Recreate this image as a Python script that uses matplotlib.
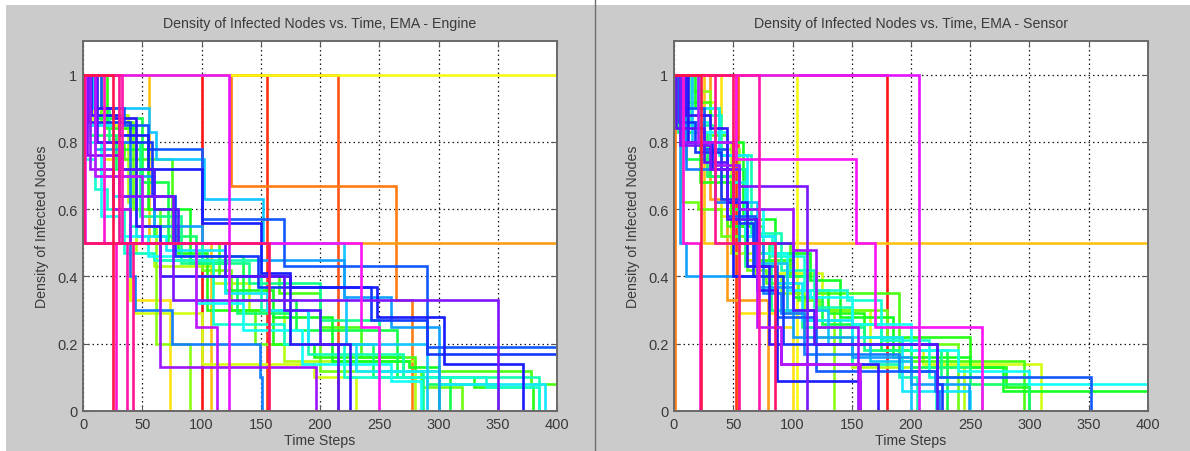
import matplotlib
matplotlib.use("Agg")
import matplotlib.pyplot as plt
from matplotlib.patches import Rectangle
from matplotlib.lines import Line2D
import numpy as np

T_END = 400
x_ticks = [0, 50, 100, 150, 200, 250, 300, 350, 400]
y_ticks = [0, 0.2, 0.4, 0.6, 0.8, 1]
y_tick_labels = ["0", "0.2", "0.4", "0.6", "0.8", "1"]

titles = ["Density of Infected Nodes vs. Time, EMA - Engine",
          "Density of Infected Nodes vs. Time, EMA - Sensor"]
x_label = "Time Steps"
y_label = "Density of Infected Nodes"

# Each run: times at which the density changes, and the density from that time on
engine_times = [
    [0, 100], [0, 155], [0, 215], [0, 125, 264, 278], [0, 1], [0, 56, 108],
    [0, 18, 40, 73], [0],
    [0, 8, 30, 40, 44, 100, 195, 230],
    [0, 12, 38, 45, 60, 110, 140, 170, 280],
    [0, 5, 30, 50, 62, 90],
    [0, 15, 42, 65, 100, 125, 145, 200, 285, 320],
    [0, 10, 35, 75, 115, 165, 200, 235, 280, 378],
    [0, 20, 45, 80, 105, 160, 195, 270, 330, 380],
    [0, 8, 25, 55, 90, 120, 160, 210, 275, 300],
    [0, 12, 50, 72, 100, 135, 180, 265, 310],
    [0, 6, 28, 60, 95, 130, 175, 245, 290, 350],
    [0, 4, 22, 48, 83, 140, 200, 250, 287],
    [0, 3, 18, 40, 65, 100, 150, 190, 270, 385],
    [0, 2, 10, 20, 35, 60, 110, 170, 220, 340, 385],
    [0, 3, 15, 30, 55, 95, 135, 185, 260, 285],
    [0, 5, 25, 45, 70, 120, 155, 190, 230, 300, 390],
    [0, 8, 56, 62, 102, 152, 220, 222, 290],
    [0, 10, 30, 60, 100, 150, 220, 260, 300],
    [0, 10, 40, 44, 75, 149, 151],
    [0, 15, 35, 55, 100, 170, 290],
    [0, 5, 40, 58, 78, 148, 243, 290],
    [0, 7, 30, 55, 100, 150, 175, 248, 305, 371],
    [0, 10, 25, 45, 65, 175, 225],
    [0, 12, 33, 60, 80, 120, 170, 200, 215],
    [0, 3, 30, 76, 350],
    [0, 6, 25, 40, 65, 197],
    [0, 10, 50, 95, 113],
    [0, 123],
    [0, 2, 235, 250],
    [0, 18, 28], [0, 33, 37], [0, 30, 42], [0, 1, 157], [0, 25],
]
engine_levels = [
    [1, 0], [1, 0], [1, 0], [1, 0.67, 0.33, 0], [1, 0.5], [1, 0.5, 0],
    [1, 0.75, 0.33, 0], [1],
    [1, 0.85, 0.6, 0.33, 0.29, 0.14, 0.1, 0],
    [1, 0.88, 0.62, 0.47, 0.43, 0.38, 0.3, 0.15, 0],
    [1, 0.9, 0.7, 0.55, 0.2, 0],
    [1, 0.86, 0.6, 0.45, 0.42, 0.3, 0.2, 0.12, 0.07, 0],
    [1, 0.8, 0.75, 0.5, 0.4, 0.35, 0.25, 0.16, 0.12, 0.08],
    [1, 0.84, 0.55, 0.47, 0.3, 0.2, 0.16, 0.1, 0.07, 0],
    [1, 0.9, 0.78, 0.6, 0.44, 0.36, 0.28, 0.15, 0.13, 0],
    [1, 0.87, 0.68, 0.5, 0.46, 0.33, 0.24, 0.1, 0],
    [1, 0.82, 0.72, 0.52, 0.4, 0.29, 0.2, 0.1, 0.08, 0],
    [1, 0.9, 0.8, 0.58, 0.44, 0.38, 0.27, 0.12, 0],
    [1, 0.85, 0.7, 0.55, 0.5, 0.45, 0.3, 0.17, 0.1, 0],
    [1, 0.75, 0.66, 0.6, 0.47, 0.45, 0.26, 0.2, 0.1, 0.07, 0],
    [1, 0.8, 0.58, 0.52, 0.46, 0.32, 0.24, 0.14, 0.09, 0],
    [1, 0.85, 0.64, 0.52, 0.48, 0.35, 0.3, 0.2, 0.12, 0.08, 0],
    [1, 0.9, 0.83, 0.75, 0.63, 0.5, 0.34, 0.2, 0],
    [1, 0.78, 0.7, 0.55, 0.5, 0.45, 0.34, 0.25, 0],
    [1, 0.8, 0.4, 0.3, 0.2, 0.1, 0],
    [1, 0.9, 0.85, 0.78, 0.57, 0.43, 0.19],
    [1, 0.86, 0.8, 0.64, 0.46, 0.37, 0.27, 0.17],
    [1, 0.88, 0.82, 0.72, 0.56, 0.41, 0.37, 0.28, 0.14, 0],
    [1, 0.9, 0.87, 0.55, 0.4, 0.2, 0],
    [1, 0.8, 0.72, 0.6, 0.5, 0.4, 0.3, 0.2, 0],
    [1, 0.76, 0.64, 0.33, 0],
    [1, 0.72, 0.6, 0.5, 0.13, 0],
    [1, 0.7, 0.5, 0.25, 0],
    [1, 0],
    [1, 0.5, 0.25, 0],
    [1, 0.5, 0], [1, 0.5, 0], [1, 0.5, 0], [1, 0.5, 0], [1, 0],
]

sensor_times = [
    [0, 180], [0, 52], [0, 54], [0, 1], [0, 30, 45, 79], [0, 25],
    [0, 40, 55, 85, 100], [0, 104],
    [0, 12, 35, 60, 85, 125, 165, 210, 310],
    [0, 8, 25, 48, 70, 95, 110, 150, 245],
    [0, 15, 30, 55, 68, 90, 110, 135],
    [0, 6, 20, 40, 62, 78, 105, 122, 180, 240],
    [0, 10, 30, 45, 75, 98, 120, 190, 295],
    [0, 5, 22, 48, 68, 100, 130, 160, 250, 280, 300],
    [0, 18, 38, 58, 85, 115, 140, 185, 250, 278],
    [0, 10, 30, 50, 72, 100, 125, 175, 230],
    [0, 3, 28, 50, 80, 112, 140, 200, 250, 300],
    [0, 14, 35, 60, 82, 108, 160, 225, 260],
    [0, 20, 40, 65, 90, 118, 150, 190, 205],
    [0, 8, 30, 50, 60, 83, 110, 146, 175, 215, 221],
    [0, 22, 45, 55, 75, 95, 115, 150, 200, 240, 300],
    [0, 5, 38, 62, 85, 108, 150, 192, 250],
    [0, 15, 45, 70, 95, 130, 165, 200],
    [0, 5, 10, 70, 100, 150, 200, 249],
    [0, 10, 35, 55, 75, 90, 110, 190, 220, 224],
    [0, 6, 25, 45, 68, 87, 120, 222, 352],
    [0, 4, 18, 40, 55, 67, 92, 222, 226],
    [0, 12, 32, 50, 70, 87, 157],
    [0, 10, 30, 45, 62, 80, 90, 172],
    [0, 2, 25, 45, 70, 100, 118, 222],
    [0, 5, 30, 55, 112],
    [0, 8, 35, 55, 100, 120, 155],
    [0, 20, 50, 70, 90, 157],
    [0, 207],
    [0, 52, 154, 170, 260],
    [0, 8, 22], [0, 72], [0, 35, 55], [0, 50, 85], [0, 23],
]
sensor_levels = [
    [1, 0], [1, 0], [1, 0], [1, 0], [1, 0.63, 0.33, 0], [1, 0.5],
    [1, 0.58, 0.29, 0.25, 0], [1, 0],
    [1, 0.92, 0.6, 0.45, 0.41, 0.3, 0.18, 0.14, 0],
    [1, 0.88, 0.8, 0.47, 0.44, 0.29, 0.22, 0.13, 0],
    [1, 0.95, 0.78, 0.5, 0.4, 0.35, 0.3, 0],
    [1, 0.62, 0.6, 0.52, 0.42, 0.38, 0.33, 0.3, 0.2, 0],
    [1, 0.92, 0.82, 0.55, 0.5, 0.4, 0.35, 0.15, 0],
    [1, 0.86, 0.68, 0.55, 0.45, 0.36, 0.29, 0.22, 0.13, 0.07, 0],
    [1, 0.9, 0.8, 0.57, 0.47, 0.39, 0.28, 0.16, 0.13, 0.06],
    [1, 0.75, 0.7, 0.6, 0.47, 0.34, 0.26, 0.18, 0],
    [1, 0.83, 0.7, 0.5, 0.4, 0.27, 0.2, 0.13, 0.08, 0],
    [1, 0.85, 0.72, 0.43, 0.3, 0.25, 0.18, 0.1, 0],
    [1, 0.88, 0.76, 0.53, 0.42, 0.31, 0.14, 0.1, 0],
    [1, 0.86, 0.8, 0.68, 0.52, 0.46, 0.36, 0.33, 0.21, 0.1, 0],
    [1, 0.83, 0.73, 0.6, 0.47, 0.36, 0.34, 0.26, 0.18, 0.12, 0.08],
    [1, 0.9, 0.76, 0.52, 0.38, 0.27, 0.22, 0.06, 0],
    [1, 0.8, 0.62, 0.44, 0.3, 0.2, 0.15, 0],
    [1, 0.5, 0.4, 0.37, 0.22, 0.16, 0.08, 0],
    [1, 0.72, 0.62, 0.5, 0.35, 0.29, 0.17, 0.12, 0.06, 0],
    [1, 0.9, 0.78, 0.58, 0.43, 0.28, 0.12, 0.1, 0],
    [1, 0.86, 0.77, 0.63, 0.56, 0.4, 0.2, 0.08, 0],
    [1, 0.8, 0.72, 0.4, 0.36, 0.09, 0],
    [1, 0.88, 0.84, 0.62, 0.43, 0.2, 0.14, 0],
    [1, 0.84, 0.74, 0.57, 0.5, 0.3, 0.2, 0],
    [1, 0.79, 0.72, 0.67, 0],
    [1, 0.8, 0.73, 0.6, 0.48, 0.25, 0],
    [1, 0.8, 0.5, 0.25, 0.14, 0],
    [1, 0],
    [1, 0.75, 0.5, 0.25, 0],
    [1, 0.5, 0], [1, 0], [1, 0.5, 0], [1, 0.5, 0], [1, 0],
]

W, H = 1190, 452
FIG_GREY = "#cbcbcb"
TEXT = "#3a3a3a"
plt.rcParams["font.family"] = ["Liberation Sans", "DejaVu Sans"]

fig = plt.figure(figsize=(W / 100, H / 100), dpi=100, facecolor="white")

# grey window panels and the divider between them
fig.add_artist(Rectangle((6 / W, 0), 1 - 6 / W, (H - 6) / H,
                         transform=fig.transFigure, facecolor=FIG_GREY,
                         edgecolor="none", zorder=0))
fig.add_artist(Line2D([594.5 / W, 594.5 / W], [0, 1], transform=fig.transFigure,
                      color="#6e6e6e", lw=1.0, zorder=1))

cmap = plt.get_cmap("hsv")


def soften(rgb, amount=0.08):
    r, g, b, _ = rgb
    return (r + (1 - r) * amount, g + (1 - g) * amount, b + (1 - b) * amount)


def draw_panel(left_px, times, levels, title):
    ax = fig.add_axes([left_px / W, (H - 412) / H, 474 / W, 370 / H])
    ax.set_facecolor("white")
    n = len(times)
    for i, (t, v) in enumerate(zip(times, levels)):
        tt = list(t) + [T_END]
        vv = list(v) + [v[-1]]
        ax.step(tt, vv, where="post", color=soften(cmap(i / n)), lw=1.9,
                solid_joinstyle="miter", zorder=2)
    ax.set_xlim(0, T_END)
    ax.set_ylim(0, 1.1)
    ax.set_xticks(x_ticks)
    ax.set_xticklabels([str(x) for x in x_ticks])
    ax.set_yticks(y_ticks)
    ax.set_yticklabels(y_tick_labels)
    ax.grid(True, color="#1a1a1a", linestyle=(0, (1.2, 2.4)), lw=0.9, zorder=1)
    ax.set_axisbelow(True)
    ax.tick_params(direction="in", length=4, width=0.8, colors="#555555",
                   labelcolor=TEXT, labelsize=10.5, top=True, right=True, pad=4)
    for s in ax.spines.values():
        s.set_color("#6a6a6a")
        s.set_linewidth(1.4)
        s.set_zorder(3)
    ax.set_title(title, fontsize=10.2, color=TEXT, pad=10)
    ax.set_xlabel(x_label, fontsize=10.2, color=TEXT, labelpad=2)
    ax.set_ylabel(y_label, fontsize=10.2, color=TEXT, labelpad=6)
    return ax


draw_panel(83, engine_times, engine_levels, titles[0])
draw_panel(674, sensor_times, sensor_levels, titles[1])

fig.savefig("out.png", dpi=100, facecolor=fig.get_facecolor())
